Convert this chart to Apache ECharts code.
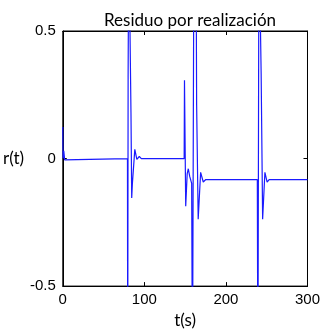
<!DOCTYPE html>
<html>
<head>
<meta charset="utf-8">
<script src="https://cdn.jsdelivr.net/npm/echarts@6/dist/echarts.min.js"></script>
<style>html,body{margin:0;padding:0;background:#fff}#c{width:323px;height:334px}</style>
</head>
<body>
<div id="c"></div>
<script>
// Data
const titleText = 'Residuo por realización';
const xName = 't(s)';
const yName = 'r(t)';
const xTicks = [0, 100, 200, 300];
const yTicks = [-0.5, 0, 0.5];

const tVals = [
  0, 0.3, 1.2, 2.3, 3.2, 4,
  79.3, 79.6, 80.1, 80.9, 83.0, 83.6, 84.5, 85.3, 88.3, 90.8, 93.8, 96.3,
  148.8, 149.2, 150.7, 152.5, 153.9, 155.6, 158.0, 159.0, 160.8, 163.3, 164.1, 166.0, 169.0, 172.2, 175.0,
  238.5, 239.2, 240.5, 242.3, 243.2, 245.0, 247.8, 250.5, 253.0,
  300
];
const rVals = [
  0.124, 0, 0.03, -0.005, 0.002, 0,
  0, -0.9, 0.32, 0.9, 0.9, 0.18, -0.155, -0.10, 0.036, -0.003, 0.008, 0,
  0, 0.307, -0.187, -0.06, -0.04, -0.07, -0.097, -0.9, 0.9, 0.9, 0.21, -0.238, -0.054, -0.092, -0.083,
  -0.083, -0.9, 0.9, 0.9, 0.33, -0.238, -0.054, -0.092, -0.083,
  -0.083
];

const seriesData = tVals.map((t, i) => [t, rVals[i]]);

const chart = echarts.init(document.getElementById('c'));
const labelFont = {fontFamily: 'Liberation Sans', fontSize: 15, color: '#000'};
const axLine = {show: true, onZero: false, lineStyle: {color: '#000'}};
const axTick = {show: true, inside: true, length: 4, lineStyle: {color: '#000'}};
chart.setOption({
  animation: false,
  title: {
    text: titleText,
    left: 99, top: 7,
    textStyle: {fontFamily: 'Lato', fontSize: 17, fontWeight: 'normal', color: '#000'}
  },
  grid: {left: 62, right: 15, top: 31, bottom: 40, show: true, borderColor: '#000', borderWidth: 1},
  xAxis: [{
    type: 'value', min: xTicks[0], max: xTicks[xTicks.length - 1], interval: 100,
    name: xName, nameLocation: 'middle', nameGap: 20,
    nameTextStyle: {fontFamily: 'Lato', fontSize: 17, color: '#000'},
    axisLine: axLine, axisTick: axTick,
    axisLabel: Object.assign({margin: 6}, labelFont),
    splitLine: {show: false}
  }, {
    type: 'value', position: 'top', min: xTicks[0], max: xTicks[xTicks.length - 1], interval: 100,
    axisLine: axLine, axisTick: axTick,
    axisLabel: {show: false}, splitLine: {show: false}
  }],
  yAxis: [{
    type: 'value', min: yTicks[0], max: yTicks[yTicks.length - 1], interval: 0.5,
    name: yName, nameLocation: 'middle', nameRotate: 0, nameGap: 24,
    nameTextStyle: {fontFamily: 'Lato', fontSize: 17, color: '#000'},
    axisLine: axLine, axisTick: axTick,
    axisLabel: Object.assign({margin: 7}, labelFont),
    splitLine: {show: false}
  }, {
    type: 'value', position: 'right', min: yTicks[0], max: yTicks[yTicks.length - 1], interval: 0.5,
    axisLine: axLine, axisTick: axTick,
    axisLabel: {show: false}, splitLine: {show: false}
  }],
  series: [{
    type: 'line',
    data: seriesData,
    showSymbol: false,
    clip: true,
    lineStyle: {color: '#1a1aff', width: 1.2},
    itemStyle: {color: '#1a1aff'}
  }]
});
</script>
</body>
</html>
